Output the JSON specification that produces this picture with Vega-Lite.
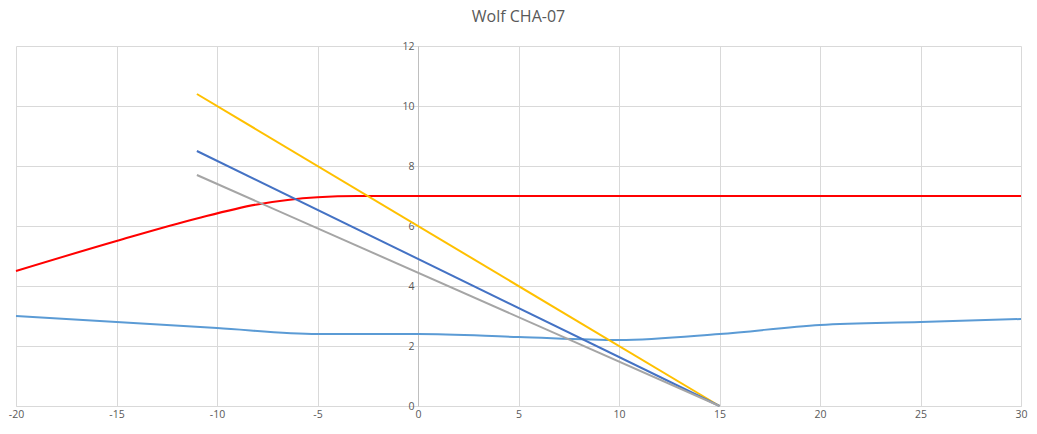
{
  "$schema": "https://vega.github.io/schema/vega-lite/v6.json",
  "autosize": {"type": "none"},
  "padding": {"left": 16, "top": 46, "right": 16, "bottom": 28},
  "width": 1005,
  "height": 360,
  "title": {
    "text": "Wolf CHA-07",
    "font": "Open Sans",
    "fontSize": 16,
    "fontWeight": "normal",
    "color": "#595959",
    "offset": 16
  },
  "config": {
    "view": {"stroke": null},
    "axis": {"labelFont": "Open Sans", "labelFontSize": 10.5, "labelColor": "#595959", "gridColor": "#D9D9D9", "gridWidth": 1}
  },
  "data": {"values": [
    {"s": "a", "x": -20, "y": 3.0},
    {"s": "a", "x": -15, "y": 2.8},
    {"s": "a", "x": -10, "y": 2.6},
    {"s": "a", "x": -5, "y": 2.4},
    {"s": "a", "x": 0, "y": 2.4},
    {"s": "a", "x": 5, "y": 2.3},
    {"s": "a", "x": 10, "y": 2.2},
    {"s": "a", "x": 15, "y": 2.4},
    {"s": "a", "x": 20, "y": 2.7},
    {"s": "a", "x": 25, "y": 2.8},
    {"s": "a", "x": 30, "y": 2.9},
    {"s": "b", "x": -20, "y": 4.5},
    {"s": "b", "x": -15, "y": 5.5},
    {"s": "b", "x": -11, "y": 6.25},
    {"s": "b", "x": -8, "y": 6.72},
    {"s": "b", "x": -5, "y": 6.96},
    {"s": "b", "x": -3, "y": 7.0},
    {"s": "b", "x": 0, "y": 7.0},
    {"s": "b", "x": 30, "y": 7.0},
    {"s": "c", "x": -11, "y": 10.4},
    {"s": "c", "x": 15, "y": 0},
    {"s": "d", "x": -11, "y": 8.5},
    {"s": "d", "x": 15, "y": 0},
    {"s": "e", "x": -11, "y": 7.7},
    {"s": "e", "x": 15, "y": 0}
  ]},
  "mark": {"type": "line", "interpolate": "monotone", "strokeWidth": 2},
  "encoding": {
    "x": {
      "field": "x", "type": "quantitative",
      "scale": {"domain": [-20, 30], "nice": false, "zero": false},
      "axis": {"title": null, "values": [-20, -15, -10, -5, 0, 5, 10, 15, 20, 25, 30], "labelExpr": "replace(datum.label, '\u2212', '-')", "labelFlush": false, "ticks": false, "labelPadding": 3, "domainColor": "#D9D9D9", "grid": true}
    },
    "y": {
      "field": "y", "type": "quantitative",
      "scale": {"domain": [0, 12], "nice": false},
      "axis": {"title": null, "values": [0, 2, 4, 6, 8, 10, 12], "ticks": false, "labelPadding": 4, "offset": -402, "domainColor": "#BFBFBF", "grid": true}
    },
    "color": {
      "field": "s", "type": "nominal", "legend": null,
      "scale": {"domain": ["a", "b", "c", "d", "e"], "range": ["#5B9BD5", "#FF0000", "#FFC000", "#4472C4", "#A5A5A5"]}
    }
  }
}
